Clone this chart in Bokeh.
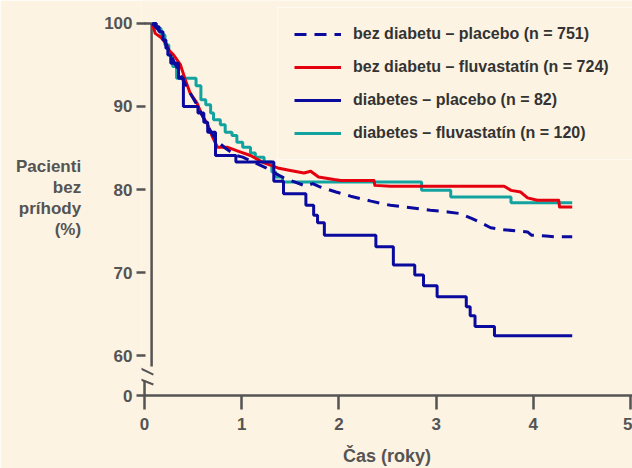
from bokeh.plotting import figure
from bokeh.models import Range1d, FixedTicker, Legend, LegendItem
from bokeh.embed import file_html
from bokeh.resources import INLINE

# ---------------- data ----------------
# diabetes – placebo (n = 82): Kaplan–Meier steps
dp_t = [0.08, 0.12, 0.15, 0.19, 0.22, 0.24, 0.27, 0.35, 0.40, 0.55,
        0.61, 0.65, 0.73, 0.94, 1.33, 1.43, 1.66, 1.74, 1.78, 1.85,
        2.38, 2.56, 2.78, 2.87, 3.01, 3.31, 3.35, 3.40, 3.60, 4.40]
dp_v = [100, 99.6, 99.0, 98.0, 97.0, 96.2, 95.2, 93.4, 90.0, 89.2,
        88.1, 86.9, 84.1, 83.3, 81.0, 79.5, 78.1, 76.9, 76.0, 74.5,
        73.1, 70.9, 69.7, 68.4, 67.1, 65.9, 64.8, 63.5, 62.4, 62.4]

# diabetes – fluvastatín (n = 120): Kaplan–Meier steps
df_t = [0.08, 0.12, 0.17, 0.21, 0.25, 0.29, 0.33, 0.53, 0.58, 0.63,
        0.68, 0.71, 0.78, 0.83, 0.90, 0.95, 1.01, 1.09, 1.14, 1.23,
        1.31, 1.35, 1.42, 2.85, 3.15, 3.77, 4.40]
df_v = [100, 99.4, 98.6, 97.4, 96.2, 94.8, 93.4, 92.5, 90.8, 90.2,
        89.2, 88.4, 87.8, 86.9, 86.5, 85.7, 85.1, 84.4, 83.9, 83.3,
        82.1, 81.5, 80.9, 79.9, 79.1, 78.4, 78.4]

# bez diabetu – fluvastatín (n = 724): dense curve
nf_t = [0.08, 0.11, 0.17, 0.22, 0.25, 0.30, 0.37, 0.42, 0.47, 0.54,
        0.59, 0.65, 0.70, 0.75, 0.85, 0.99, 1.09, 1.23, 1.37, 1.50,
        1.64, 1.71, 1.79, 1.95, 2.02, 2.36, 2.37, 2.53, 3.70, 3.77,
        3.87, 3.94, 4.04, 4.26, 4.27, 4.40]
nf_v = [100, 98.8, 98.3, 97.6, 96.8, 96.2, 95.0, 93.2, 91.6, 90.4,
        89.0, 87.8, 86.3, 85.1, 85.1, 84.5, 84.1, 83.2, 82.6, 82.3,
        82.0, 82.2, 81.5, 81.2, 81.1, 81.1, 80.5, 80.4, 80.4, 79.9,
        79.7, 79.0, 78.7, 78.7, 77.9, 77.9]

# bez diabetu – placebo (n = 751): dense curve
np_t = [0.08, 0.17, 0.27, 0.37, 0.45, 0.53, 0.63, 0.70, 0.76, 0.83,
        0.94, 1.01, 1.14, 1.25, 1.32, 1.45, 1.55, 1.66, 1.73, 1.81,
        1.97, 2.12, 2.33, 2.53, 2.74, 2.94, 3.12, 3.25, 3.37, 3.46,
        3.56, 3.66, 3.84, 3.94, 3.98, 4.13, 4.23, 4.40]
np_v = [100, 98.9, 96.2, 93.8, 92.0, 90.4, 88.1, 86.6, 85.7, 85.0,
        84.1, 83.9, 83.2, 82.6, 82.1, 81.3, 80.9, 80.4, 80.7, 80.3,
        79.7, 79.2, 78.6, 78.1, 77.8, 77.5, 77.3, 77.1, 76.5, 76.0,
        75.4, 75.2, 75.0, 74.9, 74.5, 74.4, 74.3, 74.3]

legend_labels = ["bez diabetu – placebo (n = 751)",
                 "bez diabetu – fluvastatín (n = 724)",
                 "diabetes – placebo (n = 82)",
                 "diabetes – fluvastatín (n = 120)"]
x_ticks = [0, 1, 2, 3, 4, 5]
y_ticks = [60, 70, 80, 90, 100]
y_zero_label = "0"
y_title = "Pacienti\nbez\npríhody\n(%)"
x_title = "Čas (roky)"

# ---------------- styling / layout constants ----------------
BG = "#fdf3e2"
AX = "#545454"
NAVY = "#0a0a9e"
RED = "#e5000f"
TEAL = "#12a3a0"
FONT = "Liberation Sans"

Y_ZERO = 55.2          # plotting position of the value 0 below the axis break
Y_TOP = 102.76
X_START, X_END = -0.031, 5.02

p = figure(width=632, height=468, output_backend="svg", toolbar_location=None,
           x_range=Range1d(X_START, X_END), y_range=Range1d(Y_ZERO, Y_TOP),
           min_border_left=141, min_border_right=0, min_border_top=0,
           min_border_bottom=72, background_fill_color=BG, border_fill_color=BG,
           outline_line_color=None)
p.title.visible = False
p.grid.visible = False

# x axis
xa = p.xaxis[0]
xa.ticker = FixedTicker(ticks=x_ticks)
xa.bounds = (0, X_END)
xa.axis_line_color = AX
xa.axis_line_width = 2.5
xa.major_tick_line_color = AX
xa.major_tick_line_width = 2.5
xa.major_tick_in = 0
xa.major_tick_out = 14
xa.minor_tick_line_color = None
xa.major_label_text_font = FONT
xa.major_label_text_font_size = "17px"
xa.major_label_text_font_style = "bold"
xa.major_label_text_color = AX
xa.major_label_standoff = 8
xa.axis_label = x_title
xa.axis_label_standoff = 13
xa.axis_label_text_font = FONT
xa.axis_label_text_font_size = "18px"
xa.axis_label_text_font_style = "bold"
xa.axis_label_text_color = AX
xa.axis_label_text_line_height = 1.0

# y axis (ticks + labels; the broken axis line is drawn below)
ya = p.yaxis[0]
ya.ticker = FixedTicker(ticks=[Y_ZERO] + y_ticks)
ya.major_label_overrides = {Y_ZERO: y_zero_label}
ya.axis_line_color = None
ya.major_tick_line_color = AX
ya.major_tick_line_width = 2.5
ya.major_tick_in = 4
ya.major_tick_out = 5
ya.minor_tick_line_color = None
ya.major_label_text_font = FONT
ya.major_label_text_font_size = "17px"
ya.major_label_text_font_style = "bold"
ya.major_label_text_color = AX
ya.major_label_standoff = 4
ya.axis_label = y_title
ya.axis_label_standoff = 20
ya.axis_label_text_font = FONT
ya.axis_label_text_font_size = "17px"
ya.axis_label_text_font_style = "bold"
ya.axis_label_text_color = AX
ya.axis_label_text_line_height = 1.12
ya.axis_label_text_align = "center"
if "axis_label_orientation" in ya.properties():
    ya.axis_label_orientation = "horizontal"

# broken y-axis line decorations
AXIS_X = 0.073
p.line([0, AXIS_X, AXIS_X], [100, 100, 58.7], line_color=AX, line_width=2.5)
p.line([0, 0], [57.0, Y_ZERO], line_color=AX, line_width=2.5)
p.segment(x0=[-0.083, -0.083], y0=[58.71, 57.32], x1=[0.091, 0.091], y1=[57.72, 56.52],
          line_color=AX, line_width=2)

# curves
r_df = p.step(df_t, df_v, mode="after", line_color=TEAL, line_width=3)
r_nf = p.line(nf_t, nf_v, line_color=RED, line_width=3, line_join="round")
r_np = p.line(np_t, np_v, line_color=NAVY, line_width=3, line_dash="12 8")
r_dp = p.step(dp_t, dp_v, mode="after", line_color=NAVY, line_width=3)

legend = Legend(items=[LegendItem(label=legend_labels[0], renderers=[r_np]),
                       LegendItem(label=legend_labels[1], renderers=[r_nf]),
                       LegendItem(label=legend_labels[2], renderers=[r_dp]),
                       LegendItem(label=legend_labels[3], renderers=[r_df])],
                location=(136, 235), margin=0, padding=16, spacing=13,
                glyph_width=47, glyph_height=20, label_standoff=12,
                label_width=300, label_height=20,
                background_fill_alpha=0, border_line_color="white",
                border_line_width=1.5,
                label_text_font=FONT, label_text_font_size="16px",
                label_text_font_style="bold", label_text_color="#333333")
p.add_layout(legend)

open("out.html", "w").write(file_html(p, INLINE))
